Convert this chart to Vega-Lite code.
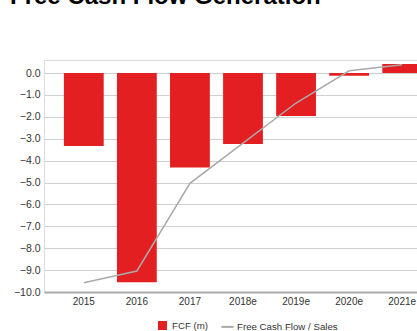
{
  "$schema": "https://vega.github.io/schema/vega-lite/v6.json",
  "autosize": "none",
  "width": 373,
  "height": 232,
  "padding": {"left": 44, "top": 60, "right": 0, "bottom": 39},
  "background": "white",
  "title": {
    "text": "Free Cash Flow Generation",
    "anchor": "start",
    "frame": "group",
    "font": "Liberation Sans",
    "fontSize": 24,
    "fontWeight": "bold",
    "color": "#000000",
    "baseline": "alphabetic",
    "offset": 32,
    "dx": -34
  },
  "data": {
    "values": [
      {"year": "2015", "fcf": -3.33, "fcf_sales": -9.58},
      {"year": "2016", "fcf": -9.56, "fcf_sales": -9.04},
      {"year": "2017", "fcf": -4.31, "fcf_sales": -5.04},
      {"year": "2018e", "fcf": -3.24, "fcf_sales": -3.2},
      {"year": "2019e", "fcf": -1.96, "fcf_sales": -1.37},
      {"year": "2020e", "fcf": -0.12, "fcf_sales": 0.1},
      {"year": "2021e", "fcf": 0.41, "fcf_sales": 0.38}
    ]
  },
  "encoding": {
    "x": {
      "field": "year",
      "type": "ordinal",
      "sort": null,
      "scale": {"range": [0, 398], "paddingInner": 0.25, "paddingOuter": 0.375},
      "axis": {
        "title": null,
        "labelAngle": 0,
        "labelFont": "Liberation Sans",
        "labelFontSize": 10,
        "labelColor": "#333333",
        "labelPadding": 4,
        "ticks": false,
        "domain": true,
        "domainColor": "#aaaaaa",
        "domainWidth": 2,
        "grid": false
      }
    }
  },
  "layer": [
    {
      "mark": {"type": "bar", "clip": false},
      "encoding": {
        "y": {
          "field": "fcf",
          "type": "quantitative",
          "scale": {"domain": [-10, 0.594], "nice": false, "zero": false},
          "axis": {
            "title": null,
            "values": [-10, -9, -8, -7, -6, -5, -4, -3, -2, -1, 0],
            "format": ".1f",
            "labelOverlap": false,
            "labelFont": "Liberation Sans",
            "labelFontSize": 10.5,
            "labelColor": "#333333",
            "labelPadding": 4,
            "ticks": false,
            "domain": false,
            "grid": true,
            "gridColor": "#cfcfcf",
            "gridWidth": 1
          }
        },
        "y2": {"datum": 0},
        "color": {
          "datum": "FCF (m)",
          "type": "nominal",
          "scale": {"domain": ["FCF (m)", "Free Cash Flow / Sales"], "range": ["#e41f22", "#aaaaaa"]},
          "legend": {
            "title": null,
            "orient": "none",
            "direction": "horizontal",
            "legendX": 111,
            "legendY": 258,
            "labelFont": "Liberation Sans",
            "labelFontSize": 9.7,
            "labelColor": "#333333",
            "columnPadding": 8,
            "labelOffset": 2,
            "symbolStrokeWidth": 2,
            "encode": {
              "symbols": {
                "update": {
                  "shape": {"signal": "datum.label === 'FCF (m)' ? 'square' : 'stroke'"},
                  "fill": {"signal": "datum.label === 'FCF (m)' ? '#e41f22' : 'transparent'"},
                  "stroke": {"signal": "datum.label === 'FCF (m)' ? 'transparent' : '#aaaaaa'"},
                  "size": {"signal": "datum.label === 'FCF (m)' ? 49 : 150"}
                }
              }
            }
          }
        }
      }
    },
    {
      "mark": {"type": "line", "strokeWidth": 1.5, "clip": false},
      "encoding": {
        "y": {
          "field": "fcf_sales",
          "type": "quantitative",
          "axis": {
            "title": null,
            "values": [-10, -9, -8, -7, -6, -5, -4, -3, -2, -1, 0],
            "format": ".1f",
            "labelOverlap": false,
            "labelFont": "Liberation Sans",
            "labelFontSize": 10.5,
            "labelColor": "#333333",
            "labelPadding": 4,
            "ticks": false,
            "domain": false,
            "grid": true,
            "gridColor": "#cfcfcf",
            "gridWidth": 1
          }
        },
        "color": {"datum": "Free Cash Flow / Sales", "type": "nominal"}
      }
    }
  ]
}
